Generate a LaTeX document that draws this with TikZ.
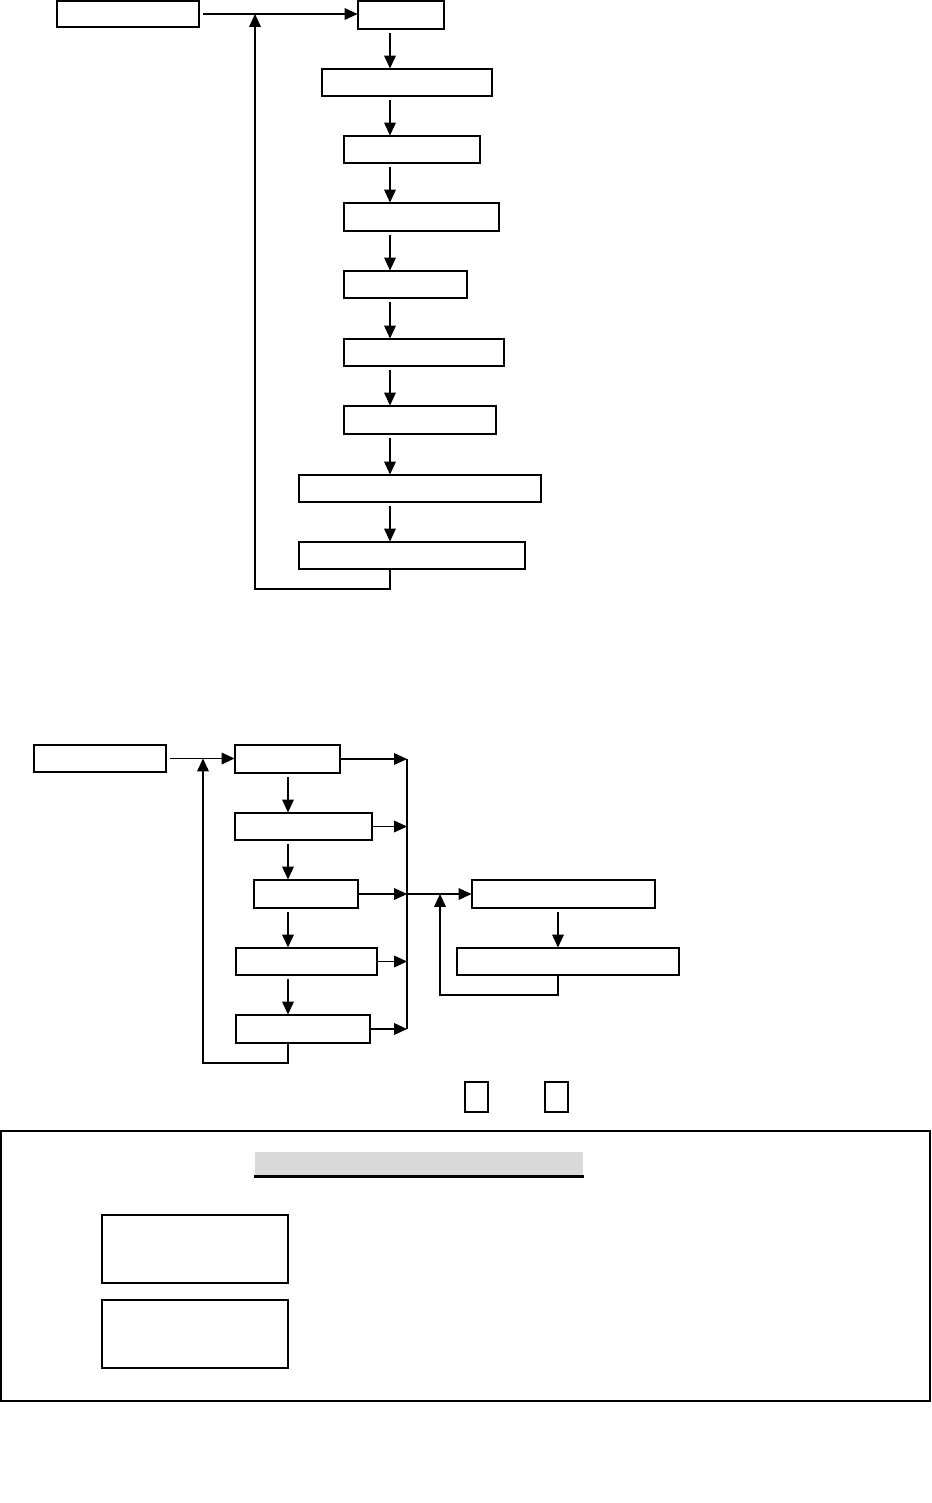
\documentclass[tikz,border=0pt]{standalone}
\usetikzlibrary{arrows.meta, positioning, fit}
\definecolor{cbar}{HTML}{D9D9D9}
\tikzset{
  every picture/.style={line width=0.9pt},
  box/.style={draw, inner sep=0pt},
  boldbox/.style={draw, inner sep=0pt, line width=1.4pt},
  arrow/.style={-{Triangle[length=11pt, width=10pt]}, draw},
  frame/.style={draw, inner sep=0pt, line width=2.4pt},
}

\begin{document}
\begin{tikzpicture}[x=0.03cm, y=-0.03cm]
  \useasboundingbox (0,0) rectangle (932,1503);
  % upper chain
  \coordinate (spine) at (390,0);
  \node[box, fit={(57,1) (199,27)}] (in1) {};
  \node[box, fit={(358,1) (444,29)}] (s1) {};
  \node[box, fit={(322,69) (492,96)}] (s2) {};
  \node[box, fit={(344,136) (480,163)}] (s3) {};
  \node[box, fit={(344,203) (499,231)}] (s4) {};
  \node[box, fit={(344,271) (467,298)}] (s5) {};
  \node[box, fit={(344,339) (504,366)}] (s6) {};
  \node[box, fit={(344,406) (496,434)}] (s7) {};
  \node[box, fit={(299,475) (541,502)}] (s8) {};
  \node[box, fit={(299,542) (525,569)}] (s9) {};
  \draw[arrow, shorten <=3pt] (in1.east) -- (in1.east -| s1.west);
  \foreach \a/\b in {s1/s2, s2/s3, s3/s4, s4/s5, s5/s6, s6/s7, s7/s8, s8/s9}
    \draw[arrow, shorten <=3pt] (\a.south -| spine) -- (\b.north -| spine);
  \coordinate (back1) at (255,589);
  \draw[arrow] (s9.south -| spine) |- (back1) -- (back1 |- in1.east);
  % lower chain
  \coordinate (spine2) at (288,0);
  \coordinate (spine3) at (558,0);
  \coordinate (bus) at (407,0);
  \node[box, fit={(34,745) (166,772)}] (in2) {};
  \node[box, fit={(235,745) (340,773)}] (t1) {};
  \node[box, fit={(235,813) (372,840)}] (t2) {};
  \node[box, fit={(254,880) (358,908)}] (t3) {};
  \node[box, fit={(236,948) (377,975)}] (t4) {};
  \node[box, fit={(236,1015) (370,1043)}] (t5) {};
  \node[box, fit={(472,880) (655,908)}] (u1) {};
  \node[box, fit={(457,948) (679,975)}] (u2) {};
  \draw[arrow, shorten <=3pt] (in2.east) -- (in2.east -| t1.west);
  \foreach \a/\b in {t1/t2, t2/t3, t3/t4, t4/t5}
    \draw[arrow, shorten <=3pt] (\a.south -| spine2) -- (\b.north -| spine2);
  \foreach \n in {t1, t2, t3, t4, t5}
    \draw[arrow] (\n.east) -- (\n.east -| bus);
  \draw (bus |- t1.east) -- (bus |- t5.east);
  \draw[arrow] (bus |- u1.west) -- (u1.west);
  \coordinate (back2) at (203,1063);
  \draw[arrow] (t5.south -| spine2) |- (back2) -- (back2 |- in2.east);
  \draw[arrow, shorten <=3pt] (u1.south -| spine3) -- (u2.north -| spine3);
  \coordinate (back3) at (440,995);
  \draw[arrow] (u2.south -| spine3) |- (back3) -- (back3 |- u1.west);
  % marks
  \node[boldbox, fit={(465,1082) (488,1112)}] (m1) {};
  \node[boldbox, fit={(545,1082) (568,1112)}] (m2) {};
  % legend
  \node[frame, fit={(1,1131) (930,1401)}] (legend) {};
  \node[fill=cbar, inner sep=0pt, fit={(255,1152) (583,1176)}] (bar) {};
  \draw[line width=2pt] (bar.south west) -- (bar.south east);
  \node[boldbox, fit={(102,1215) (288,1283)}] (k1) {};
  \node[boldbox, fit={(102,1300) (288,1368)}] (k2) {};
\end{tikzpicture}
\end{document}
